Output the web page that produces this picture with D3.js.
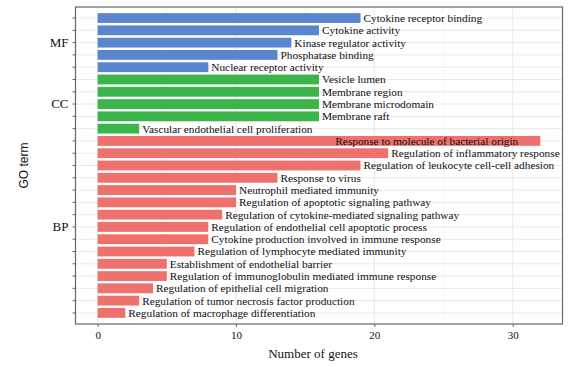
<!DOCTYPE html>
<html>
<head>
<meta charset="utf-8">
<script src="https://cdn.jsdelivr.net/npm/d3@7"></script>
<style>
  body { margin: 0; background: #fff; }
  svg text { font-family: "Liberation Serif", "Times New Roman", serif; fill: #111; }
</style>
</head>
<body>
<svg id="chart" width="581" height="367"></svg>
<script>
// GO terms, top to bottom
const terms = [
    "Cytokine receptor binding", "Cytokine activity", "Kinase regulator activity",
    "Phosphatase binding", "Nuclear receptor activity",
    "Vesicle lumen", "Membrane region", "Membrane microdomain", "Membrane raft",
    "Vascular endothelial cell proliferation",
    "Response to molecule of bacterial origin", "Regulation of inflammatory response",
    "Regulation of leukocyte cell-cell adhesion", "Response to virus",
    "Neutrophil mediated immunity", "Regulation of apoptotic signaling pathway",
    "Regulation of cytokine-mediated signaling pathway",
    "Regulation of endothelial cell apoptotic process",
    "Cytokine production involved in immune response",
    "Regulation of lymphocyte mediated immunity", "Establishment of endothelial barrier",
    "Regulation of immunoglobulin mediated immune response",
    "Regulation of epithelial cell migration", "Regulation of tumor necrosis factor production",
    "Regulation of macrophage differentiation"
];
const genes = [19, 16, 14, 13, 8, 16, 16, 16, 16, 3,
    32, 21, 19, 13, 10, 10, 9, 8, 8, 7, 5, 5, 4, 3, 2];
const ontology = ["MF", "MF", "MF", "MF", "MF", "CC", "CC", "CC", "CC", "CC",
    "BP", "BP", "BP", "BP", "BP", "BP", "BP", "BP", "BP", "BP", "BP", "BP", "BP", "BP", "BP"];
// which term carries the group label on the y axis
const groupLabelAt = { "MF": 2, "CC": 7, "BP": 17 };
const xTicks = [0, 10, 20, 30];
const xMinor = [5, 15, 25];

const svg = d3.select("#chart"),
    margin = { top: 7, right: 18.5, bottom: 43, left: 75.5 },
    width = +svg.attr("width") - margin.left - margin.right,
    height = +svg.attr("height") - margin.top - margin.bottom;

const data = terms.map((t, i) => ({ term: t, n: genes[i], ont: ontology[i], i: i }));

const x = d3.scaleLinear().domain([-1.6, 33.6]).range([0, width]);
const y = d3.scaleBand().domain(d3.range(terms.length))
    .range([0, height]).paddingInner(0.2).paddingOuter(0.5);
const color = d3.scaleOrdinal().domain(["MF", "CC", "BP"])
    .range(["#5b86cf", "#3bb54a", "#ef716d"]);

const g = svg.append("g").attr("transform", `translate(${margin.left},${margin.top})`);

// grid
g.selectAll(".gx-minor").data(xMinor).enter().append("line")
    .attr("x1", d => x(d)).attr("x2", d => x(d)).attr("y1", 0).attr("y2", height)
    .attr("stroke", "#f2f2f2").attr("stroke-width", 0.6);
g.selectAll(".gx").data(xTicks).enter().append("line")
    .attr("x1", d => x(d)).attr("x2", d => x(d)).attr("y1", 0).attr("y2", height)
    .attr("stroke", "#e6e6e6").attr("stroke-width", 0.9);
g.selectAll(".gy").data(data).enter().append("line")
    .attr("x1", 0).attr("x2", width)
    .attr("y1", d => y(d.i) + y.bandwidth() / 2).attr("y2", d => y(d.i) + y.bandwidth() / 2)
    .attr("stroke", "#e6e6e6").attr("stroke-width", 0.9);

// bars
g.selectAll(".bar").data(data).enter().append("rect")
    .attr("x", x(0)).attr("y", d => y(d.i))
    .attr("width", d => x(d.n) - x(0)).attr("height", y.bandwidth())
    .attr("fill", d => color(d.ont));

// labels next to bar ends; the longest one goes inside its bar
g.selectAll(".lab").data(data).enter().append("text")
    .attr("x", d => d.n >= 30 ? x(d.n - 1.6) : x(d.n) + 3)
    .attr("y", d => y(d.i) + y.bandwidth() / 2)
    .attr("dy", "0.35em")
    .attr("text-anchor", d => d.n >= 30 ? "end" : "start")
    .style("font-size", "11.3px")
    .text(d => d.term);

// panel border
g.append("rect").attr("width", width).attr("height", height)
    .attr("fill", "none").attr("stroke", "#666").attr("stroke-width", 1.2);

// y axis: ticks at every term, group names at chosen ticks
const yAxis = d3.axisLeft(y).tickSize(3).tickPadding(4)
    .tickFormat(i => Object.keys(groupLabelAt).find(k => groupLabelAt[k] === i) || "");
const ya = g.append("g").call(yAxis);
ya.select(".domain").remove();
ya.selectAll(".tick line").attr("stroke", "#666");
ya.selectAll(".tick text").style("font-size", "13px").attr("fill", "#111");

// x axis
const xAxis = d3.axisBottom(x).tickValues(xTicks).tickSize(3).tickPadding(4);
const xa = g.append("g").attr("transform", `translate(0,${height})`).call(xAxis);
xa.select(".domain").remove();
xa.selectAll(".tick line").attr("stroke", "#666");
xa.selectAll(".tick text").style("font-size", "11px").attr("fill", "#111");

// axis titles
svg.append("text")
    .attr("x", margin.left + width / 2 - 6).attr("y", 358)
    .attr("text-anchor", "middle").style("font-size", "13px")
    .text("Number of genes");
svg.append("text")
    .attr("transform", `translate(24,${margin.top + height / 2}) rotate(-90)`)
    .attr("text-anchor", "middle").attr("dy", "0.35em")
    .style("font-family", "'Liberation Sans', Arial, sans-serif").style("font-size", "12px")
    .text("GO term");
</script>
</body>
</html>
